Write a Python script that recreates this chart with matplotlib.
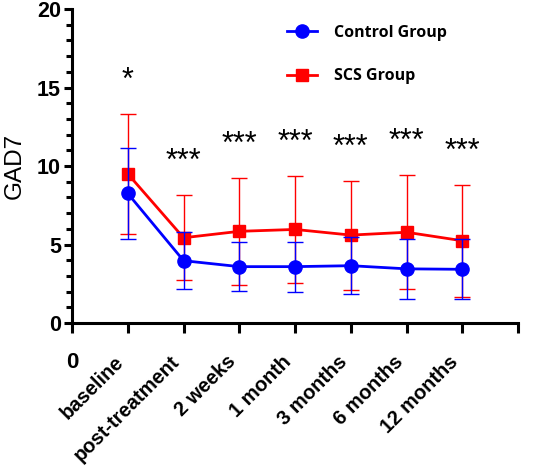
import numpy as np
import matplotlib
matplotlib.use("Agg")
import matplotlib.pyplot as plt
from matplotlib.ticker import MultipleLocator

timepoints = ["baseline", "post-treatment", "2 weeks", "1 month",
              "3 months", "6 months", "12 months"]
control_mean = [8.25, 3.97, 3.59, 3.59, 3.65, 3.45, 3.42]
control_sd = [2.9, 1.8, 1.57, 1.6, 1.8, 1.9, 1.92]
scs_mean = [9.5, 5.43, 5.84, 5.96, 5.6, 5.78, 5.24]
scs_sd = [3.83, 2.7, 3.41, 3.4, 3.47, 3.63, 3.56]
stars = ["*", "***", "***", "***", "***", "***", "***"]

plt.rcParams['font.family'] = ['Liberation Sans', 'DejaVu Sans']

fig = plt.figure(figsize=(5.5, 4.75), dpi=100)
ax = fig.add_axes([0.131, 0.32, 0.811, 0.661])

x = np.arange(1, len(timepoints) + 1)

scs = ax.errorbar(x, scs_mean, yerr=scs_sd, color='#ff0000', marker='s',
                  markersize=9, linewidth=2, elinewidth=1, capsize=5.5,
                  capthick=1, zorder=3)
ctrl = ax.errorbar(x, control_mean, yerr=control_sd, color='#0000ff', marker='o',
                   markersize=9.5, linewidth=2, elinewidth=1, capsize=5.5,
                   capthick=1, zorder=4)

# significance stars above the highest error bar
tops = np.maximum(np.array(control_mean) + control_sd, np.array(scs_mean) + scs_sd)
for xi, top, s in zip(x, tops, stars):
    ax.annotate(s, xy=(xi, top), xytext=(0, 18), textcoords='offset points',
                ha='center', va='baseline', fontsize=22)

ax.set_xlim(0, 8)
ax.set_ylim(0, 20)
ax.set_xticks(np.arange(0, 9))
ax.set_xticklabels(["0"] + timepoints + [""], fontsize=14.5, fontweight='bold')
for lab in ax.get_xticklabels()[1:]:
    lab.set_rotation(45)
    lab.set_ha('right')
ax.get_xticklabels()[0].set_fontsize(16)
ax.yaxis.set_major_locator(MultipleLocator(5))
ax.yaxis.set_minor_locator(MultipleLocator(1))
for lab in ax.get_yticklabels():
    lab.set_fontsize(15.5)
    lab.set_fontweight('bold')

ax.tick_params(axis='both', which='major', width=2.2, length=6, color='black')
ax.tick_params(axis='x', which='major', length=7, pad=14)
ax.tick_params(axis='y', which='minor', width=2.2, length=4)
ax.tick_params(axis='y', which='major', pad=2)
for side in ['top', 'right']:
    ax.spines[side].set_visible(False)
for side in ['left', 'bottom']:
    ax.spines[side].set_linewidth(2.2)

ax.set_ylabel("GAD7", fontsize=17.5, labelpad=8)

ax.legend([ctrl[0], scs[0]], ['Control Group', 'SCS Group'], loc='upper left',
          bbox_to_anchor=(0.45, 0.995), frameon=False,
          prop={'family': 'Open Sans', 'weight': 'bold', 'size': 11.5},
          handlelength=1.85, handletextpad=1.1, labelspacing=1.7)

fig.savefig("out.png", dpi=100)
